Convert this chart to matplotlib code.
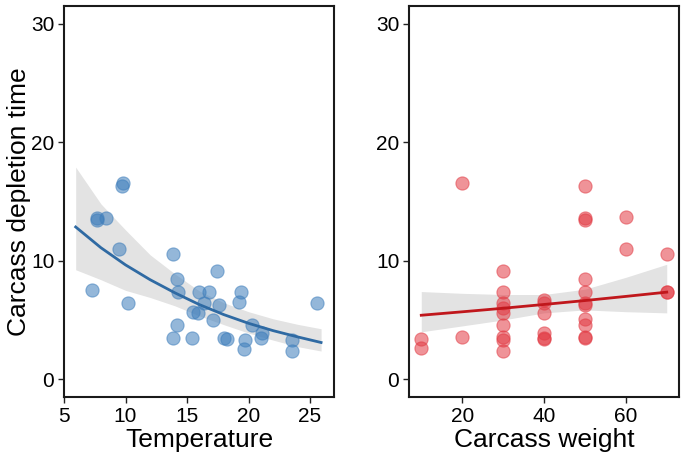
import numpy as np
import matplotlib
matplotlib.use("Agg")
import matplotlib.pyplot as plt

plt.rcParams['font.family'] = ['Liberation Sans', 'DejaVu Sans']

# panel 1: temperature vs depletion time
temp = [9.8, 9.75, 7.7, 7.65, 8.4, 9.5, 7.3, 10.2, 13.85, 14.2, 14.25, 14.2,
        13.85, 15.4, 15.5, 15.9, 16.0, 16.8, 16.4, 17.45, 17.6, 17.1, 18.0,
        18.25, 19.4, 19.2, 19.7, 19.6, 20.3, 21.1, 21.0, 23.5, 23.5, 25.6]
time_t = [16.6, 16.3, 13.6, 13.4, 13.6, 10.95, 7.5, 6.4, 10.6, 8.5, 7.4, 4.55,
          3.45, 3.45, 5.65, 5.6, 7.4, 7.4, 6.4, 9.1, 6.3, 5.0, 3.5,
          3.4, 7.4, 6.55, 3.35, 2.55, 4.55, 3.9, 3.5, 3.3, 2.4, 6.4]

# model prediction for temperature
fit_temp = [5.95, 8, 10, 12, 14, 16, 18, 20, 22, 24, 25.9]
fit_t = [12.85, 11.1, 9.65, 8.4, 7.3, 6.3, 5.45, 4.72, 4.1, 3.57, 3.1]
hi_t = [17.9, 14.8, 12.6, 10.5, 8.9, 7.45, 6.45, 5.7, 5.1, 4.63, 4.26]
lo_t = [9.24, 8.4, 7.5, 6.9, 6.2, 5.35, 4.6, 3.9, 3.3, 2.75, 2.38]

# panel 2: carcass weight vs depletion time
weight = [10, 10, 20, 20,
          30, 30, 30, 30, 30, 30, 30, 30, 30,
          40, 40, 40, 40, 40, 40,
          50, 50, 50, 50, 50, 50, 50, 50, 50, 50, 50,
          60, 60, 70, 70, 70]
time_w = [3.4, 2.6, 16.6, 3.55,
          9.1, 7.4, 6.4, 6.0, 5.6, 4.55, 3.55, 3.35, 2.4,
          6.65, 6.45, 5.6, 3.9, 3.5, 3.4,
          16.3, 13.6, 13.4, 8.5, 7.4, 6.45, 6.3, 5.1, 4.55, 3.55, 3.45,
          13.7, 10.95, 10.6, 7.4, 7.35]

# model prediction for weight
fit_weight = [10, 20, 30, 40, 50, 60, 70]
fit_w = [5.4, 5.69, 5.99, 6.31, 6.64, 6.99, 7.35]
hi_w = [7.4, 7.25, 7.15, 7.15, 7.6, 8.6, 9.7]
lo_w = [4.0, 4.5, 5.0, 5.6, 5.85, 5.7, 5.6]

fig = plt.figure(figsize=(6.85, 4.58), dpi=100)
ax1 = fig.add_axes([64 / 685, 1 - 397 / 458, 270 / 685, 391 / 458])
ax2 = fig.add_axes([409 / 685, 1 - 397 / 458, 270 / 685, 391 / 458])

panels = [
    (ax1, temp, time_t, fit_temp, fit_t, lo_t, hi_t, '#3d7dbb', '#2f6aa3',
     'Temperature', (5, 26.95), [5, 10, 15, 20, 25]),
    (ax2, weight, time_w, fit_weight, fit_w, lo_w, hi_w, '#e23b44', '#c0171c',
     'Carcass weight', (7, 73), [20, 40, 60]),
]

for ax, x, y, fx, fy, lo, hi, pcol, lcol, xlab, xlim, xt in panels:
    ax.fill_between(fx, lo, hi, color='#e3e3e3', lw=0, zorder=1)
    ax.scatter(x, y, s=90, color=pcol, alpha=0.55, edgecolors=pcol, linewidths=0.8, zorder=2)
    ax.plot(fx, fy, color=lcol, lw=2, zorder=3)
    ax.set_xlim(*xlim)
    ax.set_ylim(-1.5, 31.5)
    ax.set_xticks(xt)
    ax.set_yticks([0, 10, 20, 30])
    ax.set_xlabel(xlab, fontsize=19, labelpad=2)
    for s in ax.spines.values():
        s.set_linewidth(1.5)
        s.set_color('#1a1a1a')
    ax.tick_params(direction='out', length=4, width=1, labelsize=15, colors='#222222',
                   labelcolor='black', pad=3)

ax1.set_ylabel('Carcass depletion time', fontsize=19, labelpad=0)

fig.savefig('out.png', dpi=100)
